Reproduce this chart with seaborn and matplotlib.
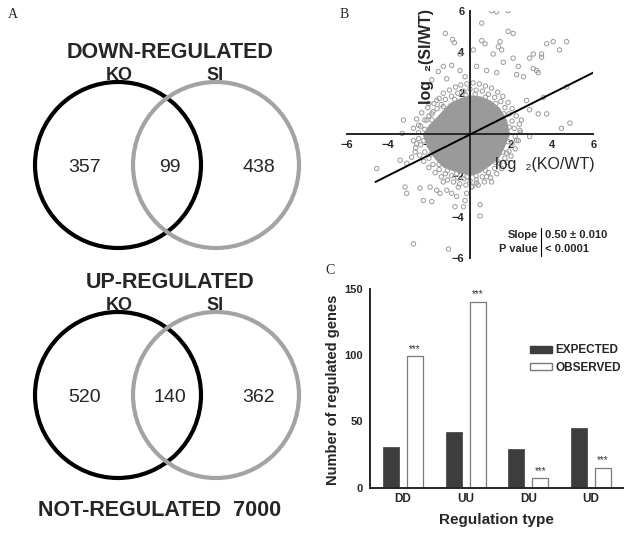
import numpy as np
import pandas as pd
import matplotlib
matplotlib.use("Agg")
import matplotlib.pyplot as plt
from matplotlib.patches import Circle, Patch
import seaborn as sns

# ---- panel A: Venn counts ----
venn_titles = ["DOWN-REGULATED", "UP-REGULATED"]
ko_only = [357, 520]
overlap = [99, 140]
si_only = [438, 362]
not_regulated = 7000

# ---- panel B: scatter (log2 ratios) ----
# solid centre of the cloud
core_x = [-2.3, -2.0, -1.6, -1.0, -0.5, 0.0, 0.5, 1.0, 1.45, 1.8, 1.95, 1.7, 1.45,
          1.0, 0.5, 0.1, -0.4, -0.9, -1.3, -1.7, -2.1]
core_y = [0.0, 0.45, 0.85, 1.5, 1.75, 1.9, 1.85, 1.65, 1.3, 0.7, 0.0, -0.6, -1.1,
          -1.5, -1.85, -2.0, -1.9, -1.75, -1.6, -1.2, -0.6]
# single genes outside the centre
ko_wt = [1.05, 1.3, 1.86, 0.57, 1.86, 2.1, -1.2, -0.85, -0.76, 0.57, 0.73, 1.46, 1.38,
         1.54, 1.13, 0.16, 3.73, 4.05, 4.7, 4.35, 3.08, 3.48, 3.48, 2.9, -0.49, -0.89,
         -1.3, -1.54, -1.13, -1.86, 2.1, 1.62, 2.35, 3.08, 3.24, 3.32, 2.27, 2.6, 0.32,
         0.81, 1.3, -0.49, -0.24, 3.57, 4.7, 3.73, 3.32, 2.9, 2.75, 4.86, 4.45, 2.5, 2.9,
         2.43, 2.27, -3.24, -2.5, -2.1, -1.86, -1.62, -2.0, -3.3, -2.6, -2.67, -2.84,
         -3.08, -4.54, -3.4, -3.16, -3.08, -2.27, -1.86, -2.43, -1.94, -1.62, -1.46,
         -1.13, -0.89, -0.65, -0.73, -0.32, -0.24, -0.57, -1.3, 0.49, 0.49, -2.75,
         -1.05, 0.81, 1.05, 0.32, 0.08, -0.16, 0.81, 1.3, 1.78,
         -2.2, -1.85, -1.3, -0.75, -0.2, 0.25, 0.75, 1.25, 1.65, 1.9, 1.85, 1.6, 1.25,
         0.75, 0.3, -0.15, -0.65, -1.1, -1.5, -1.9, -2.25,
         -2.5, -2.4, -2.2, -2.0, -1.8, -1.6, -1.4, -1.2, -0.9, -0.6, -0.3, 0.0, 0.3,
         0.6, 0.9, 1.2, 1.5, 1.7, 1.9, 2.05, 2.15, 2.2, 2.05, 1.9, 1.7, 1.45, 1.2, 0.9,
         0.6, 0.3, 0.0, -0.3, -0.6, -0.9, -1.2, -1.5, -1.8, -2.0, -2.2, -2.4, -2.5,
         -2.75, -2.6, -2.35, -2.05, -1.75, -1.5, -1.3, -1.0, -0.7, -0.45, -0.15, 0.15,
         0.45, 0.75, 1.05, 1.35, 1.6, 1.85, 2.05, 2.25, 2.4, 2.45, 2.35, 2.2, 2.0, 1.8,
         1.55, 1.3, 1.0, 0.7, 0.4, 0.1, -0.2, -0.5, -0.8, -1.1, -1.4, -1.7, -2.0,
         -2.25, -2.45, -2.65, -2.75]
si_wt = [6.0, 5.95, 6.0, 5.4, 5.0, 4.9, 4.9, 4.6, 4.45, 4.55, 4.4, 4.5, 4.25,
         4.1, 3.9, 4.1, 4.4, 4.5, 4.5, 4.1, 3.9, 3.9, 3.75, 3.7, 3.9, 3.35,
         3.3, 3.05, 2.7, 2.65, 3.7, 3.5, 3.3, 3.2, 3.1, 3.0, 2.9, 2.8, 3.3,
         3.1, 3.0, 3.1, 2.8, 1.8, 2.3, 1.0, 1.0, 1.2, 1.65, 0.55, 0.3, 0.7, -0.1,
         0.2, -0.27, 0.7, 0.45, 0.7, 1.0, 1.65, 1.5, 0.05, -0.45, -0.85, -1.1,
         -1.4, -1.65, -1.25, -2.55, -2.85, -3.2, -3.25, -2.6, -2.55, -2.7, -2.85,
         -2.7, -2.85, -3.0, -3.5, -3.5, -3.2, -2.55, -2.3, -3.4, -3.95, -5.3,
         -5.55, -2.05, -2.3, -2.35, -2.55, -2.85, -1.4, -1.25, -0.9,
         0.25, 0.7, 1.35, 1.7, 1.9, 1.95, 1.8, 1.5, 1.0, 0.35, -0.35, -0.85, -1.35,
         -1.75, -2.0, -2.05, -1.9, -1.75, -1.45, -0.95, -0.3,
         0.1, 0.4, 0.7, 0.9, 1.1, 1.25, 1.45, 1.7, 1.85, 2.0, 2.1, 2.2, 2.15,
         2.1, 1.95, 1.8, 1.6, 1.3, 1.0, 0.65, 0.3, -0.1, -0.45, -0.8, -1.15, -1.4,
         -1.65, -1.85, -2.05, -2.2, -2.25, -2.15, -2.1, -2.0, -1.9, -1.7, -1.45, -1.15,
         -0.85, -0.5, -0.2,
         0.3, 0.75, 1.05, 1.3, 1.5, 1.75, 2.0, 2.15, 2.3, 2.4, 2.45, 2.5,
         2.45, 2.35, 2.25, 2.05, 1.85, 1.55, 1.25, 0.9, 0.5, 0.1, -0.3, -0.7, -1.05,
         -1.35, -1.65, -1.9, -2.1, -2.3, -2.45, -2.5, -2.45, -2.4, -2.3, -2.2, -2.05,
         -1.85, -1.6, -1.3, -1.0, -0.65, -0.3]
slope = 0.50
line_x = [-4.6, 6.0]

# ---- panel C: regulation types ----
reg_types = ["DD", "UU", "DU", "UD"]
expected = [31, 42, 29, 45]
observed = [99, 140, 7, 15]

W, H = 631, 536
fig = plt.figure(figsize=(W / 100, H / 100), dpi=100)
sns.set_style("white")
plt.rcParams["font.family"] = ["Liberation Sans", "DejaVu Sans"]


def fx(px):
    return px / W


def fy(py):
    return 1 - py / H


serif = ["Liberation Serif", "DejaVu Serif"]

# ---------- panel A ----------
ax0 = fig.add_axes([0, 0, 1, 1])
ax0.set_xlim(0, W)
ax0.set_ylim(H, 0)
ax0.axis("off")
ax0.patch.set_visible(False)
ax0.text(8, 15, "A", fontsize=10, family=serif, va="center")
ax0.text(340, 14, "B", fontsize=10, family=serif, va="center")
ax0.text(325, 270, "C", fontsize=10, family=serif, va="center")

for i, title in enumerate(venn_titles):
    top = 52 + i * 231
    cy = top + 113 if i == 0 else top + 112
    ax0.text(170, top, title, fontsize=15.5, fontweight="bold", ha="center", va="center")
    ax0.text(119, top + 23, "KO", fontsize=13, fontweight="bold", ha="center", va="center")
    ax0.text(215, top + 23, "SI", fontsize=13, fontweight="bold", ha="center", va="center")
    ax0.add_patch(Circle((118, cy), 83, fill=False, ec="black", lw=3))
    ax0.add_patch(Circle((216, cy), 83, fill=False, ec="#a3a3a3", lw=3))
    ax0.text(85, cy + 2, str(ko_only[i]), fontsize=14, ha="center", va="center")
    ax0.text(170, cy + 2, str(overlap[i]), fontsize=14, ha="center", va="center")
    ax0.text(259, cy + 2, str(si_only[i]), fontsize=14, ha="center", va="center")

ax0.text(160, 510, f"NOT-REGULATED  {not_regulated}", fontsize=15.5, fontweight="bold",
         ha="center", va="center")

# ---------- panel B ----------
axb = fig.add_axes([fx(346.7), fy(258.3), (593.3 - 346.7) / W, (258.3 - 10.7) / H])
axb.patch.set_visible(False)
axb.fill(core_x, core_y, color="#9a9a9a", lw=0, zorder=1)
sns.scatterplot(x=ko_wt, y=si_wt, ax=axb, s=10, marker="o", facecolor="none",
                edgecolor="#9a9a9a", linewidth=0.7, zorder=2)
axb.plot(line_x, [slope * v for v in line_x], color="black", lw=1.4, zorder=4)
axb.set_xlim(-6, 6)
axb.set_ylim(-6, 6)
for side in ["left", "bottom"]:
    axb.spines[side].set_position("zero")
    axb.spines[side].set_linewidth(1.4)
    axb.spines[side].set_zorder(3)
axb.spines["top"].set_visible(False)
axb.spines["right"].set_visible(False)
axb.set_xticks([-6, -4, -2, 2, 4, 6])
axb.set_yticks([-6, -4, -2, 2, 4, 6])
axb.tick_params(direction="out", length=3, width=1.2, labelsize=8, pad=1)
for lab in axb.get_xticklabels() + axb.get_yticklabels():
    lab.set_fontweight("bold")

fig.text(fx(427), fy(57), "log  ₂(SI/WT)", rotation=90, fontsize=11.5,
         fontweight="bold", ha="center", va="center")
fig.text(fx(545), fy(165), "log  ₂(KO/WT)", fontsize=11.5, ha="center", va="center")
fig.text(fx(538), fy(235), "Slope", fontsize=8, fontweight="bold", ha="right", va="center")
fig.text(fx(538), fy(249), "P value", fontsize=8, fontweight="bold", ha="right", va="center")
fig.text(fx(545), fy(235), f"{slope:.2f} ± 0.010", fontsize=8, fontweight="bold", va="center")
fig.text(fx(545), fy(249), "< 0.0001", fontsize=8, fontweight="bold", va="center")
ax0.plot([541, 541], [228, 256], color="black", lw=0.8)

# ---------- panel C ----------
df = pd.DataFrame({
    "type": reg_types * 2,
    "count": expected + observed,
    "group": ["EXPECTED"] * 4 + ["OBSERVED"] * 4,
})
axc = fig.add_axes([fx(370), fy(487.7), 253 / W, (487.7 - 288.7) / H])
axc.patch.set_visible(False)
sns.barplot(data=df, x="type", y="count", hue="group", ax=axc, width=0.766, gap=0.334,
            palette=["#3d3d3d", "white"], legend=False)
for bar in axc.containers[0]:
    bar.set_edgecolor("#3d3d3d")
    bar.set_linewidth(0.5)
for bar in axc.containers[1]:
    bar.set_edgecolor("#7a7a7a")
    bar.set_linewidth(0.9)
for i, val in enumerate(observed):
    axc.text(i + 0.19, val + 2, "***", ha="center", va="bottom", fontsize=7,
             color="#333333", clip_on=False)
axc.set_xlim(-0.527, 3.51)
axc.set_ylim(0, 150)
axc.set_yticks([0, 50, 100, 150])
sns.despine(ax=axc)
axc.spines["left"].set_linewidth(1.4)
axc.spines["bottom"].set_linewidth(1.4)
axc.tick_params(axis="y", direction="out", length=4, width=1.2, labelsize=8, pad=1)
axc.tick_params(axis="x", length=0, labelsize=8.5, pad=4)
for lab in axc.get_xticklabels() + axc.get_yticklabels():
    lab.set_fontweight("bold")
axc.set_xlabel("")
axc.set_ylabel("")
fig.text(fx(333), fy(390), "Number of regulated genes", rotation=90, fontsize=10.5,
         fontweight="bold", ha="center", va="center")
fig.text(fx(496), fy(520), "Regulation type", fontsize=11, fontweight="bold",
         ha="center", va="center")

handles = [Patch(facecolor="#3d3d3d", edgecolor="#3d3d3d", label="EXPECTED"),
           Patch(facecolor="white", edgecolor="#7a7a7a", label="OBSERVED")]
leg = axc.legend(handles=handles, loc="upper left", bbox_to_anchor=(fx(522), fy(336)),
                 bbox_transform=fig.transFigure, frameon=False, fontsize=8.5,
                 handlelength=1.8, handleheight=0.55, handletextpad=0.35,
                 labelspacing=0.45, borderpad=0.2)
for t in leg.get_texts():
    t.set_fontweight("bold")

fig.savefig("out.png", dpi=100)
